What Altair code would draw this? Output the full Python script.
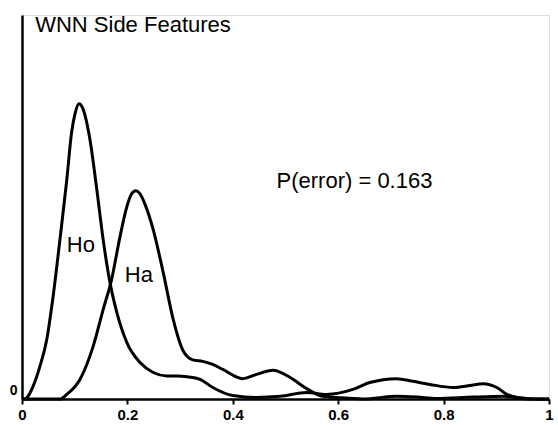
import altair as alt
import pandas as pd

# Density of the WNN side-feature score under each hypothesis
ho_x = [0.0, 0.006, 0.009, 0.021, 0.034, 0.047, 0.059, 0.072, 0.085, 0.094, 0.101, 0.108,
        0.115, 0.122, 0.129, 0.142, 0.154, 0.167, 0.180, 0.199, 0.224, 0.249, 0.275, 0.295,
        0.313, 0.338, 0.362, 0.400, 0.445, 0.490, 0.540, 0.578, 0.628, 0.660, 0.711, 0.742,
        0.774, 0.818, 0.850, 0.875, 0.901, 0.920, 0.939, 0.964, 1.0]
ho_y = [0.0, 0.0, 0.03, 0.33, 0.85, 1.55, 2.67, 4.15, 5.71, 6.93, 7.45, 7.69,
        7.58, 7.25, 6.75, 5.45, 4.15, 3.03, 2.25, 1.47, 0.95, 0.69, 0.60, 0.60,
        0.58, 0.51, 0.30, 0.09, 0.04, 0.07, 0.17, 0.12, 0.25, 0.43, 0.53, 0.46,
        0.38, 0.30, 0.35, 0.40, 0.30, 0.12, 0.04, 0.0, 0.0]

ha_x = [0.0, 0.072, 0.085, 0.110, 0.135, 0.154, 0.170, 0.186, 0.199, 0.207, 0.216, 0.224,
        0.234, 0.249, 0.268, 0.287, 0.306, 0.324, 0.343, 0.362, 0.381, 0.419, 0.445, 0.476,
        0.509, 0.540, 0.571, 0.597, 0.647, 0.711, 0.749, 0.787, 0.856, 0.913, 0.939, 0.973,
        1.0]
ha_y = [0.0, 0.0, 0.12, 0.51, 1.37, 2.33, 3.11, 4.23, 5.01, 5.32, 5.42, 5.34,
        5.05, 4.41, 3.29, 2.07, 1.25, 1.02, 0.98, 0.90, 0.77, 0.53, 0.64, 0.75,
        0.56, 0.27, 0.07, 0.04, 0.0, 0.07, 0.05, 0.01, 0.05, 0.07, 0.04, 0.0,
        0.0]

x_ticks = [0, 0.2, 0.4, 0.6, 0.8, 1]

# Annotations: text, anchor x, baseline y
notes = pd.DataFrame({
    "label": ["WNN Side Features", "P(error) = 0.163", "Ho", "Ha"],
    "x": [0.025, 0.483, 0.085, 0.195],
    "y": [9.55, 5.49, 3.84, 3.05],
})

curves = pd.concat([
    pd.DataFrame({"score": ho_x, "density": ho_y, "hyp": "Ho"}),
    pd.DataFrame({"score": ha_x, "density": ha_y, "hyp": "Ha"}),
])

tick_font = "'Liberation Sans Narrow', 'Liberation Sans', sans-serif"

x_scale = alt.Scale(domain=[0, 1], nice=False)
y_scale = alt.Scale(domain=[0, 10], nice=False)

lines = alt.Chart(curves).mark_line(
    interpolate="monotone", color="black", strokeWidth=3
).encode(
    x=alt.X("score:Q", scale=x_scale, axis=alt.Axis(
        values=x_ticks, format="~g", title=None, grid=False,
        domainColor="black", domainWidth=2.5, tickColor="black", tickWidth=2,
        tickSize=5, labelPadding=3, labelFont=tick_font, labelFontSize=15,
        labelFontWeight="bold", labelColor="black", labelFlush=False,
    )),
    y=alt.Y("density:Q", scale=y_scale, axis=alt.Axis(
        values=[0], format="d", title=None, grid=False, ticks=False, tickSize=0,
        domainColor="black", domainWidth=2.5, labelPadding=5,
        labelFont=tick_font, labelFontSize=14, labelFontWeight="bold",
        labelColor="black", labelBaseline="bottom", labelOffset=-2,
    )),
    detail="hyp:N",
)

text = alt.Chart(notes).mark_text(
    align="left", baseline="alphabetic", font="Liberation Sans",
    fontSize=22, color="black"
).encode(
    x=alt.X("x:Q", scale=x_scale),
    y=alt.Y("y:Q", scale=y_scale),
    text="label:N",
)

chart = alt.layer(lines, text).properties(
    width=527,
    height=384,
    autosize=alt.AutoSizeParams(type="none"),
    padding={"left": 22, "top": 15, "right": 9, "bottom": 26},
).configure_view(stroke=None).configure(background="white")

chart.save("out.html", embed_options={"renderer": "svg", "actions": False})
